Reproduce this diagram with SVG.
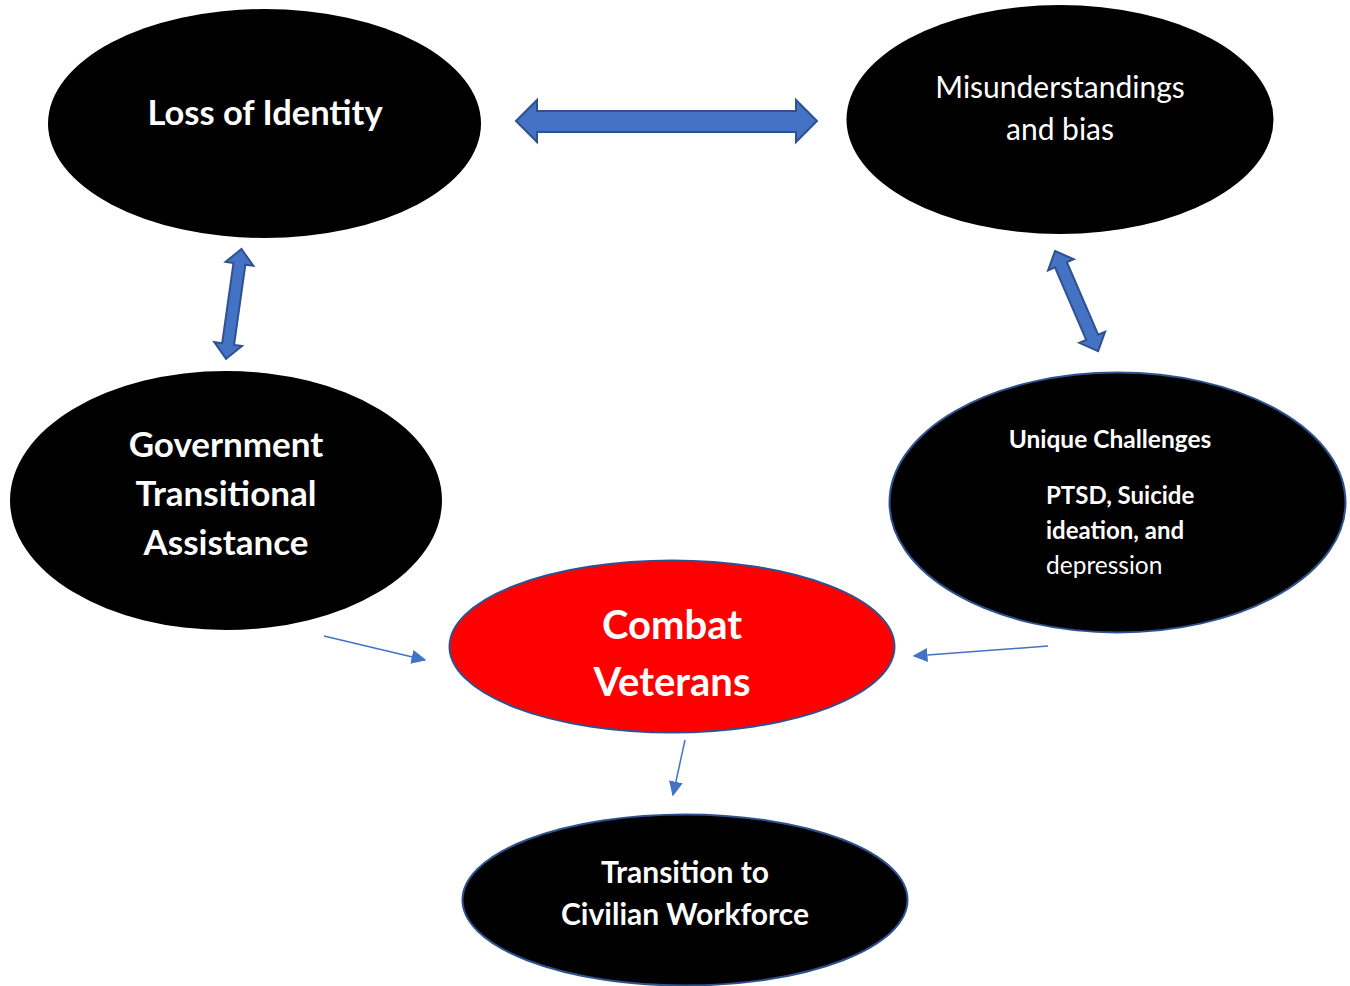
<svg xmlns="http://www.w3.org/2000/svg" width="1350" height="986" viewBox="0 0 1350 986">
<defs>
<style>
.blk{fill:#000000;}
.bord{stroke:#2F528F;stroke-width:2;}
.t{fill:#ffffff;font-family:Lato,"Noto Sans",sans-serif;}
.b{font-weight:bold;}
.blockarrow{fill:#4472C4;stroke:#2F528F;stroke-width:2;stroke-linejoin:miter;}
.thin{stroke:#4472C4;stroke-width:1.5;fill:none;marker-end:url(#ah);}
</style>
<marker id="ah" viewBox="0 0 10 10" refX="9" refY="5" markerWidth="15" markerHeight="14" markerUnits="userSpaceOnUse" orient="auto" preserveAspectRatio="none">
<path d="M0,0 L10,5 L0,10 Z" fill="#4472C4"/>
</marker>
</defs>
<rect width="1350" height="986" fill="#ffffff"/>
<g id="connectors">
<path class="blockarrow" d="M516,121 L537,100 L537,111 L796,111 L796,100 L817,121 L796,142 L796,132 L537,132 L537,142 Z"/>
<path class="blockarrow" transform="translate(241.5,249) rotate(98)" d="M0,0 L15,-14 L15,-6 L96,-6 L96,-14 L111,0 L96,14 L96,6 L15,6 L15,14 Z"/>
<path class="blockarrow" transform="translate(1055,251) rotate(66.7)" d="M0,0 L15,-14 L15,-6.5 L94,-6.5 L94,-14 L109,0 L94,14 L94,6.5 L15,6.5 L15,14 Z"/>
<path class="thin" d="M324,636 L425,660"/>
<path class="thin" d="M1048,646 L914,656"/>
<path class="thin" d="M685,740 L673,795"/>
</g>
<g id="loss-of-identity">
<ellipse class="blk" cx="264.5" cy="123.5" rx="216.5" ry="114.5"/>
<text class="t b" x="265" y="125" font-size="34.5" text-anchor="middle">Loss of Identity</text>
</g>
<g id="misunderstandings">
<ellipse class="blk" cx="1060" cy="119.5" rx="213.5" ry="114.5"/>
<text class="t" x="1060" y="98" font-size="30" text-anchor="middle">Misunderstandings</text>
<text class="t" x="1060" y="140" font-size="30" text-anchor="middle">and bias</text>
</g>
<g id="government">
<ellipse class="blk" cx="226" cy="500.5" rx="216" ry="129.5"/>
<text class="t b" x="226" y="457" font-size="35" text-anchor="middle">Government</text>
<text class="t b" x="226" y="506" font-size="35" text-anchor="middle">Transitional</text>
<text class="t b" x="226" y="555" font-size="35" text-anchor="middle">Assistance</text>
</g>
<g id="unique-challenges">
<ellipse class="blk bord" cx="1117.5" cy="502.5" rx="228" ry="130"/>
<text class="t b" x="1110" y="448" font-size="24.5" text-anchor="middle">Unique Challenges</text>
<text class="t b" x="1046" y="504" font-size="24">PTSD, Suicide</text>
<text class="t b" x="1046" y="539" font-size="24">ideation, and</text>
<text class="t" x="1046" y="574" font-size="24.5">depression</text>
</g>
<g id="combat-veterans">
<ellipse fill="#FF0000" class="bord" cx="672" cy="646.5" rx="222.5" ry="86"/>
<text class="t b" x="672" y="639" font-size="40" text-anchor="middle">Combat</text>
<text class="t b" x="672" y="696" font-size="40" text-anchor="middle">Veterans</text>
</g>
<g id="transition">
<ellipse class="blk bord" cx="685" cy="900" rx="222.5" ry="85.5"/>
<text class="t b" x="685" y="883" font-size="30" text-anchor="middle">Transition to</text>
<text class="t b" x="685" y="925" font-size="30" text-anchor="middle">Civilian Workforce</text>
</g>
</svg>
